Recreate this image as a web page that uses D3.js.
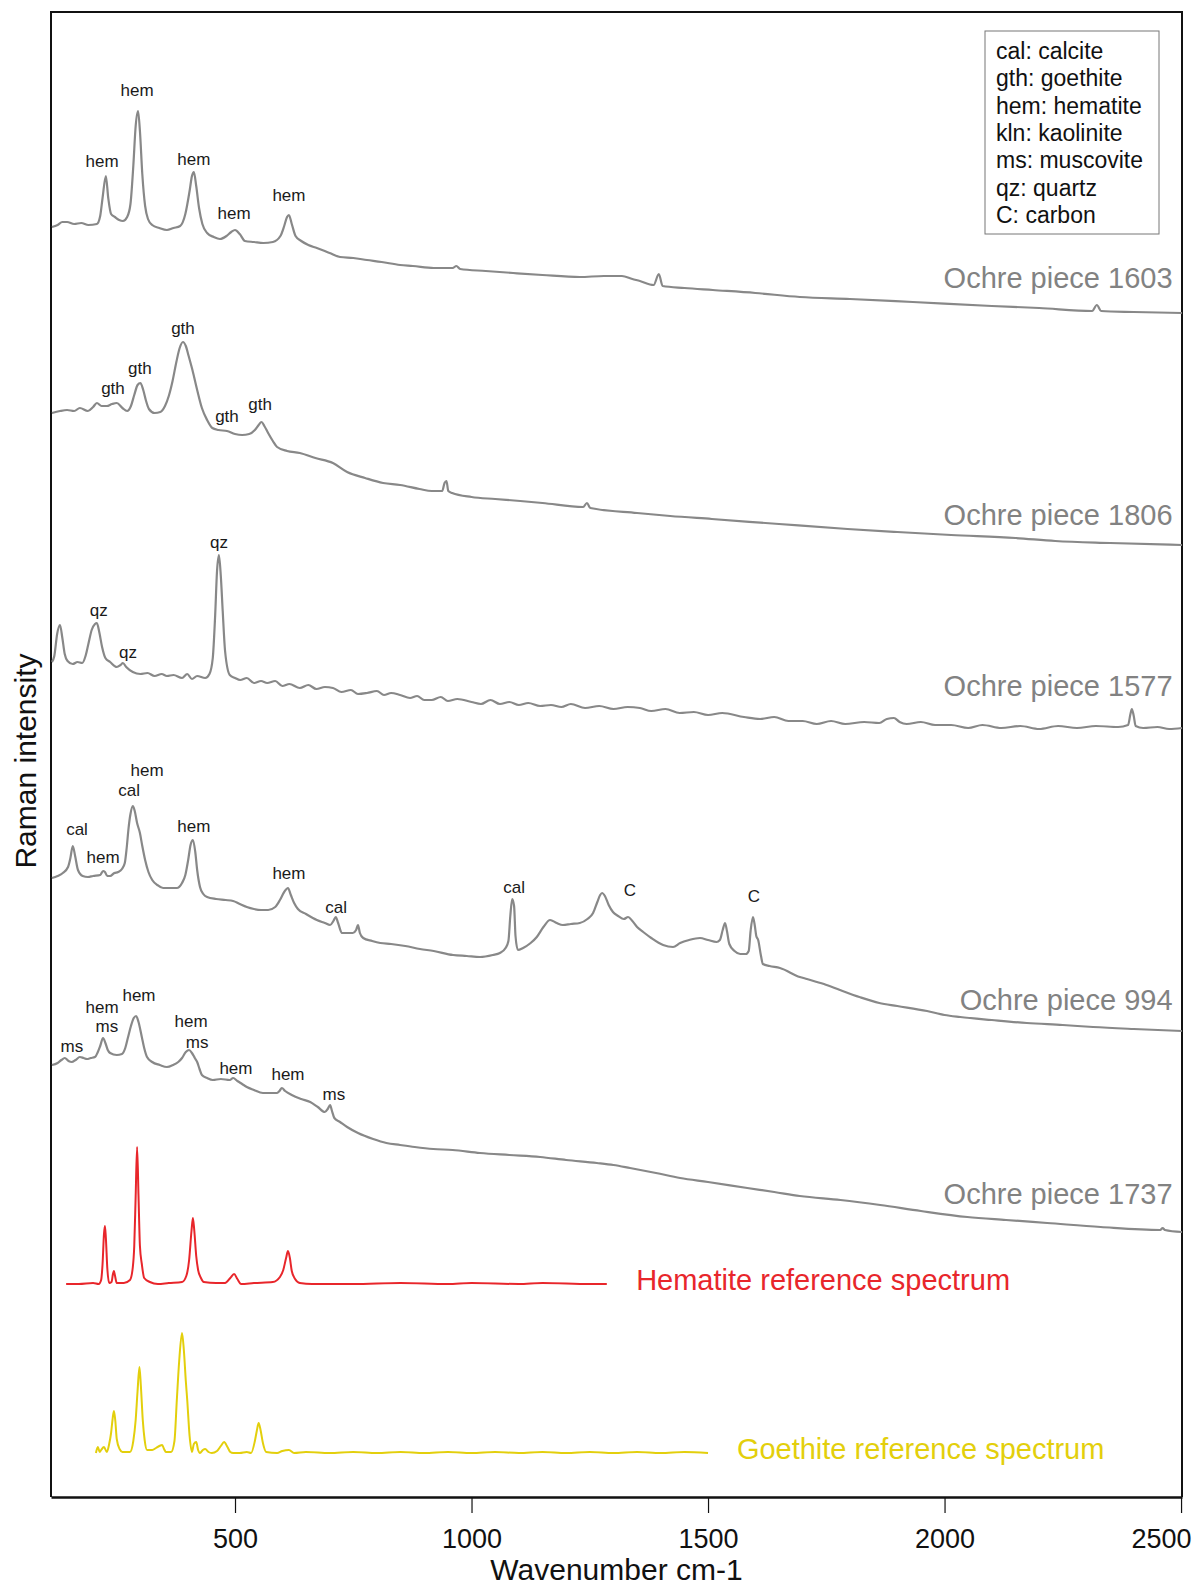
<!DOCTYPE html>
<html>
<head>
<meta charset="utf-8">
<script src="https://cdn.jsdelivr.net/npm/d3@7"></script>
<style>
  body { margin: 0; background: #fff; }
  text { font-family: "Liberation Sans", Arial, sans-serif; }
</style>
</head>
<body>
<div id="chart"></div>
<script>
"use strict";

/* global d3 */

// spectra: [wavenumber cm-1, stacked intensity (arbitrary units)]
var ochre1603 = [[113,1269],[125,1271],[135,1274],[145,1274],[160,1272],[175,1273],[190,1271],[208,1272],[215,1280],[220,1298],[227,1320],[232,1298],[238,1282],[246,1279],[255,1276],[263,1275],[272,1279],[279,1292],[285,1330],[290,1370],[295,1385],[299,1365],[304,1322],[310,1290],[316,1277],[325,1271],[340,1268],[356,1266],[370,1268],[384,1270],[395,1282],[404,1305],[409,1320],[413,1324],[418,1310],[424,1288],[431,1272],[441,1263],[455,1259],[468,1257],[482,1260],[492,1264],[500,1266],[510,1262],[521,1255],[540,1254],[560,1253],[580,1254],[596,1260],[604,1270],[610,1279],[614,1281],[620,1272],[628,1260],[640,1255],[655,1251],[673,1248],[700,1243],[722,1239],[750,1238],[779,1236],[810,1234],[849,1231],[876,1230],[920,1228],[960,1228],[968,1230],[976,1227],[1030,1225],[1088,1223],[1150,1221],[1229,1219],[1280,1220],[1318,1220],[1340,1217],[1356,1215],[1385,1211],[1396,1222],[1404,1210],[1450,1208],[1510,1206],[1600,1203],[1694,1199],[1800,1197],[1933,1194],[2100,1190],[2200,1188],[2312,1185],[2322,1191],[2331,1185],[2400,1184],[2502,1183]];

var ochre1806 = [[113,1083],[130,1085],[145,1086],[160,1085],[172,1088],[189,1085],[200,1089],[208,1093],[218,1090],[229,1090],[240,1092],[250,1093],[262,1088],[272,1085],[280,1090],[287,1101],[294,1111],[300,1113],[306,1106],[312,1095],[318,1087],[330,1083],[342,1084],[352,1090],[360,1100],[368,1115],[376,1134],[383,1148],[390,1154],[396,1150],[402,1140],[410,1126],[420,1106],[430,1088],[441,1076],[452,1068],[465,1066],[483,1065],[500,1062],[515,1061],[530,1062],[542,1066],[550,1071],[556,1074],[562,1070],[570,1063],[580,1055],[589,1049],[610,1045],[637,1043],[670,1038],[707,1033],[737,1024],[775,1018],[813,1013],[849,1011],[890,1007],[916,1005],[938,1005],[943,1013],[947,1015],[951,1005],[959,1003],[1000,999],[1050,997],[1103,995],[1150,993],[1236,989],[1244,993],[1251,988],[1350,983],[1420,980],[1508,977],[1650,972],[1795,967],[1900,964],[2014,961],[2150,958],[2234,955],[2350,953],[2502,951]];

var ochre1577 = [[113,834],[118,840],[124,862],[130,871],[135,858],[140,842],[146,835],[157,832],[167,834],[177,833],[184,840],[190,852],[197,866],[204,872],[208,873],[213,864],[219,849],[226,838],[236,834],[250,829],[258,831],[263,833],[270,829],[284,824],[300,822],[315,823],[330,820],[345,822],[356,820],[370,821],[388,818],[399,822],[409,817],[420,820],[437,818],[446,822],[453,838],[458,880],[462,925],[466,941],[470,920],[474,885],[479,845],[489,821],[500,818],[511,816],[525,818],[540,813],[555,815],[568,813],[585,815],[600,810],[615,812],[637,808],[655,811],[672,807],[690,809],[707,808],[725,804],[745,806],[760,802],[779,803],[800,805],[815,801],[830,803],[849,801],[870,798],[885,800],[900,796],[916,796],[935,799],[950,795],[970,797],[1000,794],[1020,792],[1040,796],[1060,792],[1080,794],[1100,791],[1120,793],[1145,790],[1168,791],[1190,789],[1210,792],[1240,788],[1270,790],[1300,787],[1330,789],[1356,788],[1380,785],[1410,787],[1440,783],[1470,784],[1500,781],[1530,783],[1576,779],[1610,777],[1640,779],[1670,775],[1700,775],[1730,772],[1760,775],[1790,772],[1830,774],[1862,773],[1878,777],[1893,778],[1905,774],[1920,772],[1950,774],[1980,771],[2014,771],[2050,768],[2080,771],[2120,768],[2160,770],[2200,767],[2240,770],[2280,768],[2320,770],[2367,769],[2388,771],[2393,782],[2396,787],[2400,780],[2404,770],[2420,768],[2450,769],[2475,767],[2502,768]];

var ochre994 = [[113,618],[125,620],[136,623],[147,629],[152,638],[157,650],[162,640],[168,626],[178,620],[189,619],[200,620],[215,621],[221,625],[225,624],[230,620],[236,620],[245,623],[253,624],[261,627],[267,633],[271,648],[275,668],[279,682],[284,690],[288,685],[293,673],[299,663],[304,650],[310,636],[317,624],[325,616],[336,611],[348,608],[365,608],[377,608],[388,613],[395,621],[401,636],[406,651],[411,656],[416,644],[420,626],[426,609],[433,602],[441,599],[460,597],[480,596],[496,595],[510,592],[525,589],[540,587],[555,586],[570,586],[585,589],[595,596],[604,604],[612,608],[618,601],[625,593],[633,587],[650,582],[673,576],[690,573],[701,571],[708,575],[713,579],[718,573],[726,563],[740,563],[749,563],[756,566],[760,571],[764,563],[771,558],[790,555],[807,553],[830,552],[860,550],[891,547],[920,545],[961,541],[990,540],[1018,539],[1045,541],[1060,543],[1072,548],[1078,555],[1082,580],[1086,597],[1090,590],[1093,560],[1098,546],[1109,548],[1125,553],[1138,559],[1152,569],[1166,576],[1180,573],[1193,571],[1210,572],[1229,573],[1245,577],[1257,583],[1266,594],[1272,601],[1276,603],[1282,600],[1290,591],[1299,584],[1310,580],[1322,577],[1331,579],[1340,575],[1350,569],[1363,564],[1380,558],[1405,551],[1426,549],[1441,553],[1460,556],[1483,558],[1500,556],[1518,554],[1525,556],[1531,566],[1536,573],[1540,565],[1545,552],[1556,545],[1568,542],[1580,542],[1586,545],[1590,565],[1595,579],[1599,570],[1602,560],[1606,556],[1612,540],[1616,532],[1630,530],[1652,528],[1694,519],[1709,517],[1745,512],[1779,506],[1820,499],[1862,493],[1900,490],[1963,485],[2000,481],[2033,479],[2100,476],[2174,473],[2250,471],[2314,469],[2400,467],[2502,465]];

var ochre1737 = [[113,431],[125,433],[133,436],[140,438],[148,435],[155,434],[163,436],[172,439],[180,438],[187,437],[195,438],[204,439],[210,444],[215,450],[221,458],[226,453],[231,446],[236,443],[250,441],[261,442],[268,448],[274,459],[280,470],[286,478],[291,480],[296,474],[303,459],[308,448],[314,439],[325,434],[341,431],[356,429],[369,431],[380,434],[388,438],[396,444],[403,446],[409,443],[415,438],[420,434],[425,427],[430,421],[441,418],[453,416],[470,417],[489,416],[496,418],[505,415],[515,412],[525,409],[540,406],[559,403],[575,403],[589,403],[594,405],[599,408],[606,405],[620,401],[640,397],[659,394],[675,389],[690,384],[696,387],[701,391],[705,385],[710,378],[722,374],[737,369],[760,363],[792,357],[820,353],[849,351],[880,349],[919,347],[960,346],[1018,343],[1080,341],[1145,339],[1200,336],[1265,333],[1300,331],[1335,328],[1390,323],[1441,318],[1500,314],[1583,308],[1640,304],[1694,300],[1780,296],[1864,291],[1950,285],[2048,279],[2130,276],[2217,273],[2330,269],[2456,266],[2461,268],[2466,266],[2502,264]];

var hematiteRef = [[143,212],[170,212],[200,213],[212,212],[217,216],[220,232],[223,262],[225,270],[227,258],[230,228],[234,213],[239,214],[242,222],[244,225],[246,221],[250,213],[265,213],[278,216],[284,229],[287,250],[290,300],[293,349],[296,300],[299,250],[303,232],[308,218],[320,214],[337,212],[360,213],[388,214],[397,220],[403,236],[408,265],[411,278],[414,265],[418,240],[422,226],[428,218],[434,214],[460,213],[479,213],[490,218],[498,222],[505,217],[513,212],[540,213],[580,214],[595,219],[602,226],[608,238],[612,245],[616,238],[620,225],[627,217],[637,213],[663,212],[750,212],[850,213],[950,212],[1000,213],[1100,212],[1150,213],[1250,212],[1286,212]];

var goethiteRef = [[206,43],[210,49],[214,44],[217,46],[223,49],[229,44],[234,52],[238,63],[241,76],[244,85],[247,75],[250,57],[256,47],[262,44],[270,44],[278,44],[285,55],[290,76],[294,105],[298,129],[301,110],[305,76],[309,56],[314,46],[325,46],[333,48],[340,50],[346,51],[350,47],[354,44],[365,44],[372,55],[377,96],[382,135],[388,163],[392,145],[396,115],[399,96],[404,60],[409,44],[413,52],[418,54],[422,46],[426,43],[432,46],[437,47],[444,44],[451,43],[462,45],[470,50],[477,54],[484,49],[490,44],[496,43],[510,43],[525,44],[534,43],[542,55],[546,65],[550,73],[554,66],[559,53],[566,44],[589,43],[600,45],[614,46],[625,43],[650,44],[700,43],[750,44],[800,43],[850,44],[900,43],[950,44],[1000,43],[1050,44],[1100,43],[1150,44],[1200,43],[1250,44],[1300,43],[1350,44],[1400,43],[1450,44],[1500,43]];

// sample names and the intensity level where each name sits
var sampleNames = ['Ochre piece 1603', 'Ochre piece 1806', 'Ochre piece 1577', 'Ochre piece 994', 'Ochre piece 1737'];
var sampleNameLevels = [1218, 981, 810, 496, 302];

var refNames = ['Hematite reference spectrum', 'Goethite reference spectrum'];
var refNameAt = [[1348, 216], [1561, 47]];

// peak assignments: [text, wavenumber, intensity]
var peakLabels = [
  ['hem', 219, 1335], ['hem', 293, 1406], ['hem', 413, 1337], ['hem', 498, 1283], ['hem', 614, 1301],
  ['gth', 242, 1108], ['gth', 299, 1128], ['gth', 390, 1168], ['gth', 483, 1080], ['gth', 553, 1092],
  ['qz', 212, 886], ['qz', 274, 844], ['qz', 466, 954],
  ['cal', 166, 667], ['hem', 221, 639], ['cal', 276, 706], ['hem', 314, 726], ['hem', 413, 670],
  ['hem', 614, 623], ['cal', 714, 589], ['cal', 1090, 609], ['C', 1335, 606], ['C', 1597, 600],
  ['ms', 155, 450], ['hem', 219, 489], ['ms', 229, 470], ['hem', 297, 501], ['hem', 407, 475],
  ['ms', 420, 454], ['hem', 502, 428], ['hem', 612, 422], ['ms', 709, 402]
];

var legendEntries = ['cal: calcite', 'gth: goethite', 'hem: hematite', 'kln: kaolinite', 'ms: muscovite', 'qz: quartz', 'C: carbon'];

var xTicks = [500, 1000, 1500, 2000, 2500];

var margin = { top: 12, right: 12, bottom: 92, left: 51 };
var width = 1131;
var height = 1485;

var gray = '#888888';
var red = '#e8262b';
var yellow = '#e3cf0c';

var x = d3.scaleLinear().domain([111, 2502]).range([0, width]);
var y = d3.scaleLinear().domain([0, 1484]).range([height - 1, 0]);

var line = d3.line()
  .x(function (d) { return x(d[0]); })
  .y(function (d) { return y(d[1]); })
  .curve(d3.curveMonotoneX);

var svg = d3.select('#chart').append('svg')
  .attr('width', 1194)
  .attr('height', 1589);

var g = svg.append('g')
  .attr('transform', 'translate(' + margin.left + ',' + margin.top + ')');

// frame (top, left, right)
g.append('path')
  .attr('d', 'M0,' + height + 'V0H' + width + 'V' + height)
  .attr('fill', 'none')
  .attr('stroke', '#111')
  .attr('stroke-width', 2);

var xAxis = g.append('g')
  .attr('transform', 'translate(0,' + height + ')')
  .call(d3.axisBottom(x).tickValues(xTicks).tickFormat(d3.format('d')).tickSize(16).tickSizeOuter(0).tickPadding(16));

xAxis.select('.domain').attr('stroke', '#111').attr('stroke-width', 2.5);
xAxis.selectAll('.tick line').attr('stroke', '#111').attr('stroke-width', 1.2);
xAxis.selectAll('.tick text')
  .attr('fill', '#111')
  .style('font-size', '27px')
  .style('font-family', '"Liberation Sans", Arial, sans-serif');

// last label sits against the right edge of the page
xAxis.selectAll('.tick text')
  .filter(function (d) { return d === 2500; })
  .attr('text-anchor', 'end')
  .attr('x', 10);

svg.append('text')
  .attr('x', margin.left + width / 2)
  .attr('y', 1569)
  .attr('text-anchor', 'middle')
  .attr('dominant-baseline', 'central')
  .attr('fill', '#111')
  .style('font-size', '30px')
  .text('Wavenumber cm-1');

svg.append('text')
  .attr('transform', 'translate(25,761) rotate(-90)')
  .attr('text-anchor', 'middle')
  .attr('dominant-baseline', 'central')
  .attr('fill', '#111')
  .style('font-size', '30px')
  .text('Raman intensity');

// spectra
var samples = [ochre1603, ochre1806, ochre1577, ochre994, ochre1737];

g.selectAll('path.sample')
  .data(samples)
  .enter().append('path')
  .attr('class', 'sample')
  .attr('d', line)
  .attr('fill', 'none')
  .attr('stroke', gray)
  .attr('stroke-width', 2.2)
  .attr('stroke-linejoin', 'round');

g.append('path').datum(hematiteRef)
  .attr('d', line).attr('fill', 'none')
  .attr('stroke', red).attr('stroke-width', 2);

g.append('path').datum(goethiteRef)
  .attr('d', line).attr('fill', 'none')
  .attr('stroke', yellow).attr('stroke-width', 2);

// sample names, right aligned
g.selectAll('text.sname')
  .data(sampleNames)
  .enter().append('text')
  .attr('class', 'sname')
  .attr('x', x(2482))
  .attr('y', function (d, i) { return y(sampleNameLevels[i]); })
  .attr('text-anchor', 'end')
  .attr('dominant-baseline', 'central')
  .attr('fill', '#828282')
  .style('font-size', '29px')
  .text(function (d) { return d; });

g.selectAll('text.rname')
  .data(refNames)
  .enter().append('text')
  .attr('class', 'rname')
  .attr('x', function (d, i) { return x(refNameAt[i][0]); })
  .attr('y', function (d, i) { return y(refNameAt[i][1]); })
  .attr('dominant-baseline', 'central')
  .attr('fill', function (d, i) { return i === 0 ? red : yellow; })
  .style('font-size', '29px')
  .text(function (d) { return d; });

// peak assignments
g.selectAll('text.peak')
  .data(peakLabels)
  .enter().append('text')
  .attr('class', 'peak')
  .attr('x', function (d) { return x(d[1]); })
  .attr('y', function (d) { return y(d[2]); })
  .attr('text-anchor', 'middle')
  .attr('dominant-baseline', 'central')
  .attr('fill', '#1a1a1a')
  .style('font-size', '17px')
  .text(function (d) { return d[0]; });

// abbreviation legend
var legend = svg.append('g').attr('transform', 'translate(985,31)');
legend.append('rect')
  .attr('width', 174)
  .attr('height', 203)
  .attr('fill', '#fff')
  .attr('stroke', '#777')
  .attr('stroke-width', 1);

legend.selectAll('text')
  .data(legendEntries)
  .enter().append('text')
  .attr('x', 11)
  .attr('y', function (d, i) { return 20 + i * 27.3; })
  .attr('dominant-baseline', 'central')
  .attr('fill', '#111')
  .style('font-size', '23px')
  .text(function (d) { return d; });
</script>
</body>
</html>
